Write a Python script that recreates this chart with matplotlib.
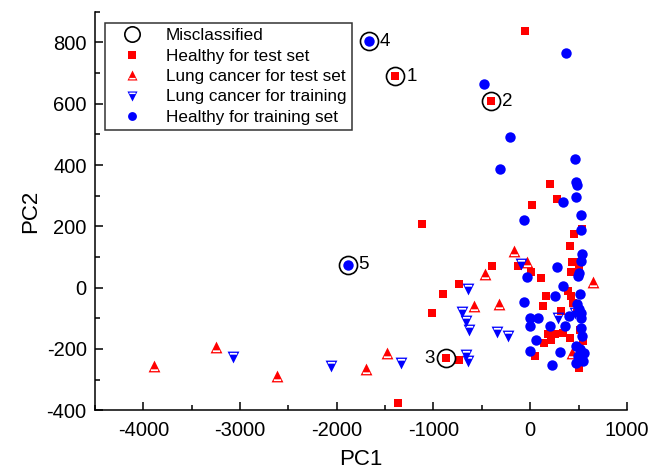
import numpy as np
import matplotlib.pyplot as plt
from matplotlib.path import Path

plt.rcParams["font.family"] = ["Liberation Sans", "DejaVu Sans"]
plt.rcParams["axes.unicode_minus"] = False

red = "#FF0000"
blue = "#0000FF"

# healthy, test set
ht_x = [-52, -1395, -404, -1119, 207, 276, 14, 539, 452, 407, 432, 487, 425, 500,
        -128, 10, 107, 390, 425, 442, 166, 132, 314, 487, 511, 183, 252, 339, 407,
        218, 148, 546, 55, 500, -394, -732, -905, -1019, -870, -739, -1364]
ht_y = [836, 690, 608, 209, 339, 290, 268, 191, 175, 135, 84, 84, 50, 66,
        70, 51, 32, -12, -28, -50, -28, -59, -77, -83, -137, -153, -153, -148, -164,
        -170, -181, -175, -224, -262, 70, 13, -20, -83, -230, -235, -376]

# lung cancer, test set
lt_x = [-169, -31, 649, 435, -463, -577, -324, -1481, -3885, -3246, -2614, -1699]
lt_y = [118, 83, 17, -213, 45, -59, -53, -213, -257, -195, -287, -265]

# lung cancer, training set
lr_x = [-3074, -2062, -1336, -704, -663, -629, -663, -639, -345, -225, 287, 459, -639, -93]
lr_y = [-227, -255, -246, -79, -108, -139, -219, -238, -146, -159, -99, -83, -4, 78]

# healthy, training set
hr_x = [466, 477, 487, 473, 339, 521, -65, 521, 539, 528, 276, 500, 490, -31, 339,
        252, 518, -69, 480, 504, 528, 528, -3, 80, -3, 200, 363, 401, 528, 539, 59,
        3, 308, 228, 477, 511, 556, 494, 546, 477, 373, -480, -210, -308, -1668, -1889]
hr_y = [421, 343, 336, 295, 278, 237, 219, 189, 108, 88, 66, 46, 39, 36, 4,
        -28, -22, -47, -55, -70, -83, -99, -99, -99, -126, -126, -126, -94, -132, -159, -171,
        -208, -210, -251, -191, -202, -213, -224, -240, -246, 766, 665, 490, 387, 804, 75]

# misclassified samples
mis_x = [-1395, -404, -870, -1668, -1889]
mis_y = [690, 608, -230, 804, 75]
mis_lab = ["1", "2", "3", "4", "5"]
mis_side = ["r", "r", "l", "r", "r"]


def banded_triangle(up=True):
    # triangle with a thin white stripe near its base
    tri = [(-1, -1), (1, -1), (0, 1), (-1, -1)]
    band = [(-0.62, -0.78), (-0.62, -0.48), (0.62, -0.48), (0.62, -0.78), (-0.62, -0.78)]
    verts = np.array(tri + band, dtype=float)
    if not up:
        verts[:, 1] *= -1
    codes = [Path.MOVETO, Path.LINETO, Path.LINETO, Path.CLOSEPOLY,
             Path.MOVETO, Path.LINETO, Path.LINETO, Path.LINETO, Path.CLOSEPOLY]
    return Path(verts, codes)


up_tri = banded_triangle(True)
down_tri = banded_triangle(False)

fig = plt.figure(figsize=(6.53, 4.72), dpi=100)
ax = fig.add_axes([0.1455, 0.131, 0.8145, 0.844])

ax.plot(ht_x, ht_y, "s", color=red, ms=6, mew=0, ls="none", label="Healthy for test set")
ax.plot(lt_x, lt_y, ls="none", marker=up_tri, color=red, ms=8.5, mew=0,
        label="Lung cancer for test set")
ax.plot(lr_x, lr_y, ls="none", marker=down_tri, color=blue, ms=8.5, mew=0,
        label="Lung cancer for training")
ax.plot(hr_x, hr_y, "o", color=blue, ms=7.5, mew=0, ls="none", label="Healthy for training set")
ax.plot(mis_x, mis_y, "o", mfc="none", mec="black", ms=13, mew=1.2, ls="none",
        label="Misclassified")

for x, y, t, s in zip(mis_x, mis_y, mis_lab, mis_side):
    dx = 8 if s == "r" else -8
    ax.annotate(t, (x, y), xytext=(dx, 0), textcoords="offset points",
                ha="left" if s == "r" else "right", va="center", fontsize=13.5)

ax.set_xlim(-4500, 1000)
ax.set_ylim(-400, 900)
ax.set_xticks(np.arange(-4000, 1001, 1000))
ax.set_yticks(np.arange(-400, 801, 200))
ax.set_xticks(np.arange(-4500, 1001, 500), minor=True)
ax.set_yticks(np.arange(-300, 901, 200), minor=True)
ax.tick_params(which="both", direction="in", labelsize=14.5, width=1.1)
ax.tick_params(which="major", length=6)
ax.tick_params(which="minor", length=3.5)
ax.tick_params(axis="x", pad=8)
ax.tick_params(axis="y", pad=6)
for side in ["top", "right"]:
    ax.spines[side].set_visible(False)
for side in ["left", "bottom"]:
    ax.spines[side].set_linewidth(1.1)

ax.set_xlabel("PC1", fontsize=16, labelpad=6)
ax.set_ylabel("PC2", fontsize=16, labelpad=4)

h, l = ax.get_legend_handles_labels()
order = [4, 0, 1, 2, 3]
leg = ax.legend([h[i] for i in order], [l[i] for i in order], loc="upper left",
                bbox_to_anchor=(0.018, 0.972), fontsize=12.3, frameon=True, fancybox=False,
                edgecolor="black", borderpad=0.3, handletextpad=0.7, labelspacing=0.32,
                handlelength=2.6, borderaxespad=0, markerscale=0.85)
leg.get_frame().set_linewidth(1.1)

fig.savefig("out.png", dpi=100)
